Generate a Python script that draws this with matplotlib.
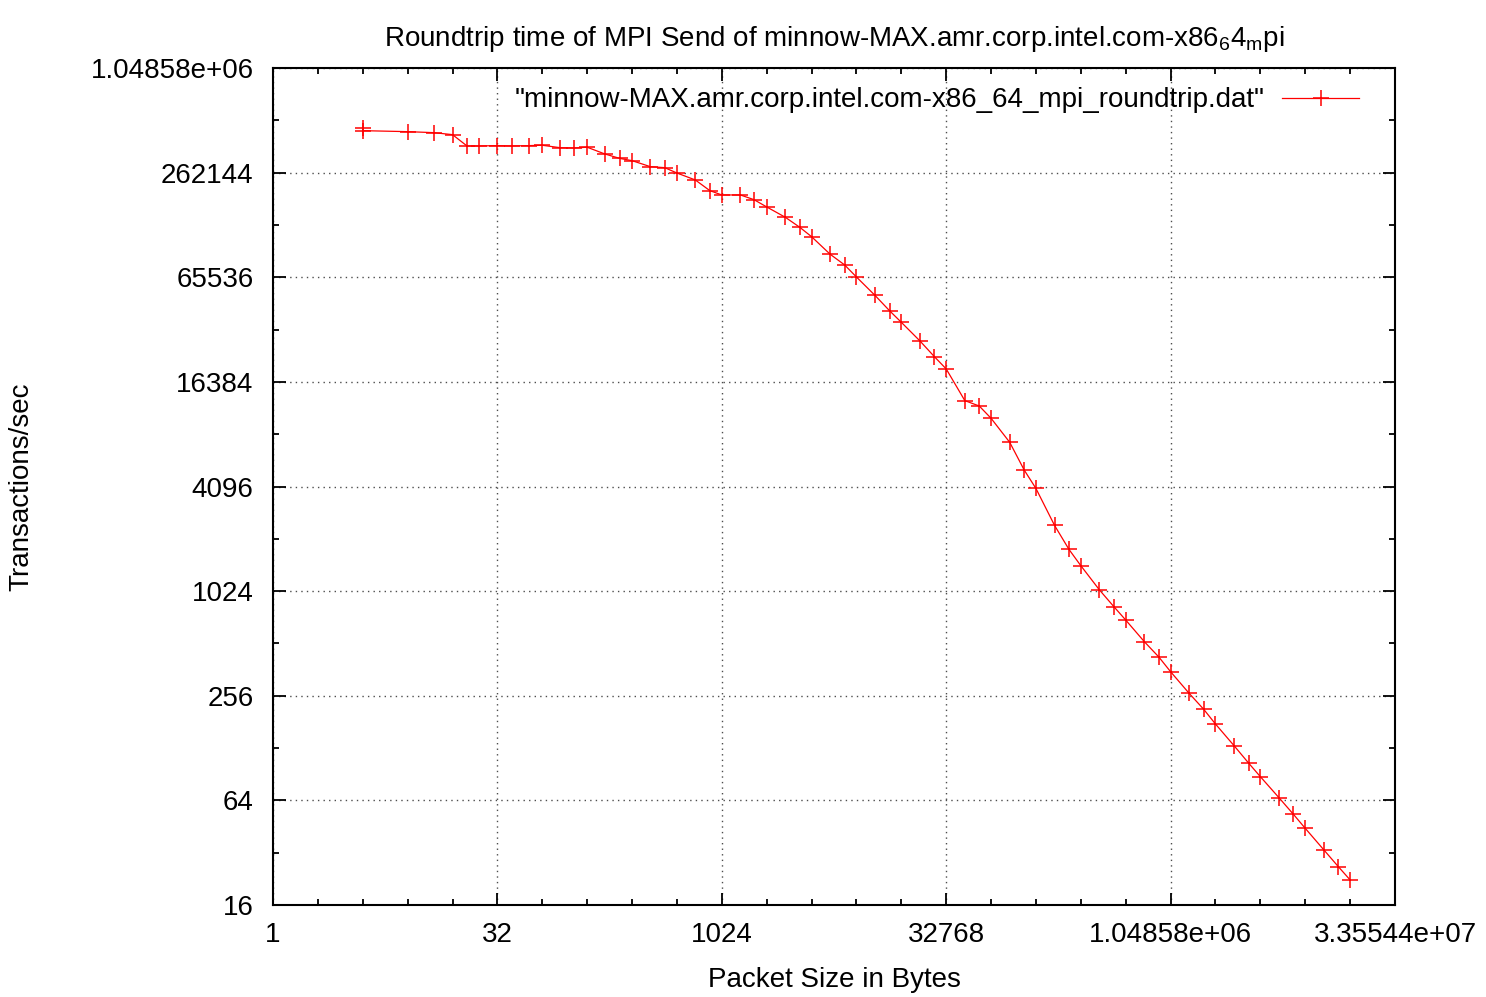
import matplotlib.pyplot as plt
from matplotlib.ticker import FixedLocator, FixedFormatter, NullFormatter

plt.rcParams['font.family'] = ['Liberation Sans', 'DejaVu Sans']
plt.rcParams['mathtext.fontset'] = 'custom'
plt.rcParams['mathtext.rm'] = 'Liberation Sans'

# packet size (bytes) vs. MPI roundtrip transactions per second
sizes = [4, 4, 8, 12, 16, 20, 24, 32, 40, 52, 64, 84, 104, 128, 168, 212,
         256, 340, 424, 512, 680, 852, 1024, 1364, 1684, 2048, 2730, 3412,
         4096, 5460, 6826, 8192, 10922, 13652, 16384, 21844, 27306, 32768,
         43690, 54612, 65536, 87380, 109226, 131072, 174762, 218452, 262144,
         349524, 436906, 524288, 699050, 873812, 1048576, 1398100, 1747626,
         2097152, 2796202, 3495252, 4194304, 5592404, 6990506, 8388608,
         11184810, 13981012, 16777216]
rates = [470600, 457100, 451200, 445200, 433600, 373300, 373300, 374900,
         373300, 374900, 376700, 364900, 363300, 367000, 335800, 316400,
         307200, 283600, 280000, 260800, 237900, 206400, 195000, 195000,
         183200, 166400, 145100, 127100, 112200, 88870, 77140, 65770, 51490,
         42080, 36080, 28180, 22880, 19450, 12780, 11900, 10110, 7357, 5100,
         3989, 2444, 1778, 1434, 1040, 833, 698, 524, 428, 352, 264, 214, 176,
         132, 105, 87.6, 66.3, 53.2, 44.2, 33.2, 26.6, 22.3]

xticks = [1, 32, 1024, 32768, 1048576, 33554432]
xlabels = ['1', '32', '1024', '32768', '1.04858e+06', '3.35544e+07']
yticks = [16, 64, 256, 1024, 4096, 16384, 65536, 262144, 1048576]
ylabels = ['16', '64', '256', '1024', '4096', '16384', '65536', '262144',
           '1.04858e+06']

title = ('Roundtrip time of MPI Send of minnow-MAX.amr.corp.intel.com-'
         'x86$_\\mathregular{6}$4$_\\mathregular{m}$pi')
legend_label = '"minnow-MAX.amr.corp.intel.com-x86_64_mpi_roundtrip.dat"'

fig = plt.figure(figsize=(14.86, 9.97), dpi=100)
ax = fig.add_axes([273 / 1486, 1 - 905 / 997, 1122 / 1486, 837 / 997])

ax.plot(sizes, rates, color='red', lw=0.9, marker='+', ms=12, mew=1.1,
        label=legend_label)

ax.set_xscale('log', base=2)
ax.set_yscale('log', base=2)
ax.set_xlim(1, 33554432)
ax.set_ylim(16, 1048576)

ax.xaxis.set_major_locator(FixedLocator(xticks))
ax.xaxis.set_major_formatter(FixedFormatter(xlabels))
ax.xaxis.set_minor_locator(FixedLocator([2 ** k for k in range(26)]))
ax.xaxis.set_minor_formatter(NullFormatter())
ax.yaxis.set_major_locator(FixedLocator(yticks))
ax.yaxis.set_major_formatter(FixedFormatter(ylabels))
ax.yaxis.set_minor_locator(FixedLocator([2 ** k for k in range(5, 20, 2)]))
ax.yaxis.set_minor_formatter(NullFormatter())

ax.tick_params(which='both', direction='in', top=True, right=True,
               labelsize=20, color='black')
ax.tick_params(which='major', length=9, width=1.3, pad=12)
ax.tick_params(which='minor', length=4.5, width=1.3)
ax.tick_params(axis='y', pad=14)

for s in ax.spines.values():
    s.set_linewidth(1.5)

ax.grid(True, which='major', color='0.3', linestyle=(0, (1, 3)), lw=1.0)

ax.set_title(title, fontsize=20, pad=16)
ax.set_xlabel('Packet Size in Bytes', fontsize=20, labelpad=14)
ax.set_ylabel('Transactions/sec', fontsize=20, labelpad=40)

leg = ax.legend(loc='upper right', bbox_to_anchor=(0.985, 1.0),
                frameon=False, fontsize=20, handlelength=2.75,
                handletextpad=0.65, borderaxespad=0.3, markerfirst=False)

fig.savefig('out.png', dpi=100)
